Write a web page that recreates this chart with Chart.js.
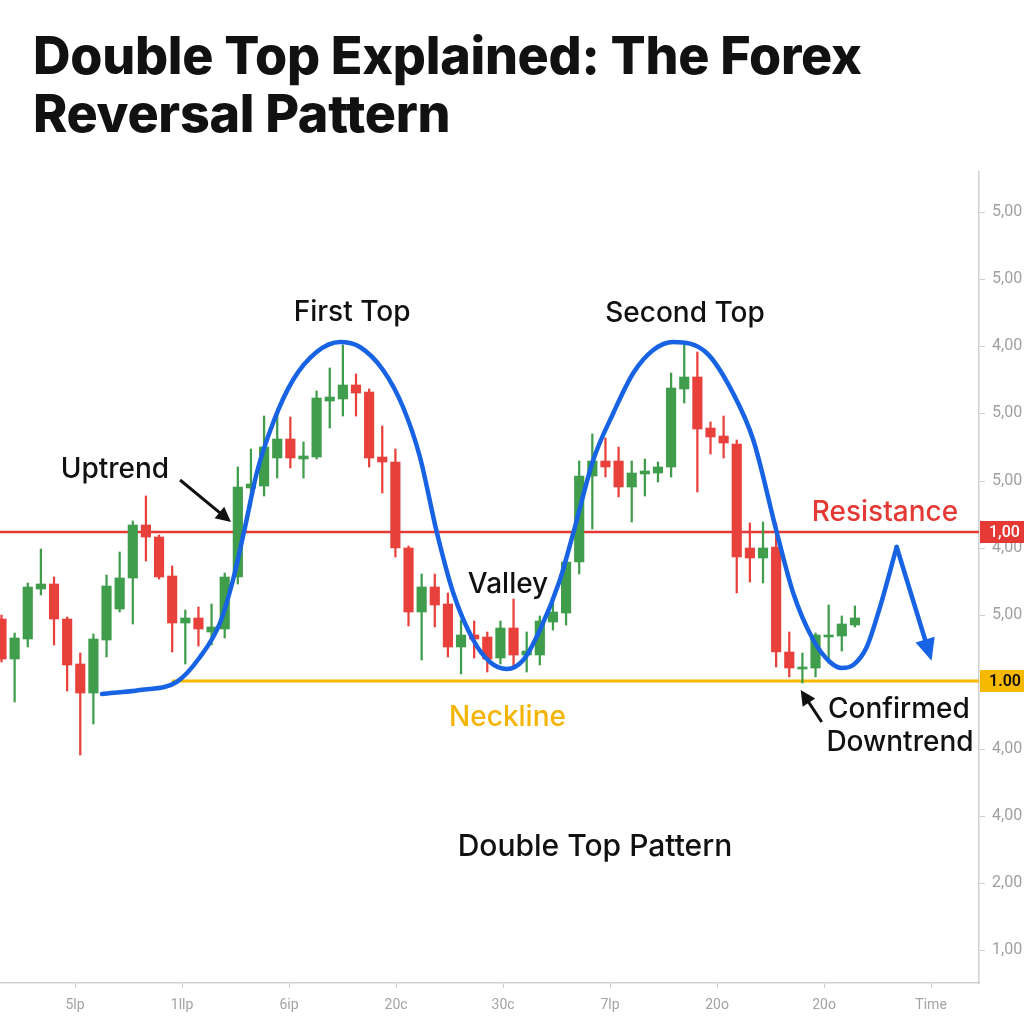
<!DOCTYPE html>
<html><head><meta charset="utf-8">
<script src="https://cdn.jsdelivr.net/npm/chart.js@4.4.1/dist/chart.umd.min.js"></script>
<style>
html,body{margin:0;padding:0;background:#fff;}
#wrap{position:relative;width:1024px;height:1024px;overflow:hidden;background:#fff;}
#title{position:absolute;left:33px;top:27px;margin:0;font-family:Inter,"Open Sans",sans-serif;font-weight:800;font-size:52px;line-height:58px;color:#111;z-index:2;white-space:nowrap;letter-spacing:-0.3px;}
canvas{position:absolute;left:0;top:0;}
</style></head><body>
<div id="wrap">
<h1 id="title">Double Top Explained: The Forex<br>Reversal Pattern</h1>
<canvas id="c" width="1024" height="1024"></canvas>
</div>
<script>
// ---- candle data (one candle per time step) ----
const openP  = [364,324,344,394,399,364,319,290,343,374,405,458,446,407,360,365,351,354,406,495,497,525,544,524,526,582,584,598,591,526,521,435,371,396,379,336,348,346,325,355,328,328,361,370,421,507,522,522,496,509,510,516,594,606,555,547,539,435,425,436,331,314,315,346,347,358];
const highP  = [368,350,400,434,406,366,330,349,408,431,462,487,448,417,373,376,379,410,516,534,567,574,566,541,592,615,638,609,594,557,534,437,409,409,390,363,362,351,362,384,351,367,381,423,522,549,545,536,522,524,521,610,638,631,561,567,543,460,461,460,351,330,350,378,367,377];
const lowP   = [321,281,336,388,338,292,228,259,326,371,359,422,404,331,319,337,338,345,399,477,487,505,515,505,524,555,567,567,516,490,426,357,323,356,326,309,325,311,319,315,311,318,353,358,409,454,506,486,461,487,501,506,580,491,529,525,390,401,400,316,306,300,306,320,332,356];
const closeP = [324,345,396,399,364,318,290,344,397,405,458,446,406,360,365,354,356,406,496,499,536,544,525,527,585,586,598,590,525,521,435,371,396,378,336,348,344,324,355,328,332,362,371,421,507,522,516,496,510,512,516,595,606,554,546,540,426,425,435,331,315,316,348,348,359,365];

// ---- pattern overlay path (time, price) ----
const curveT = [7.65,10.55,13.34,15.12,16.64,17.63,18.55,19.44,20.68,22.2,24.0,25.78,27.3,29.06,30.58,31.87,33.15,34.41,35.93,37.2,38.48,39.74,41.01,42.53,43.55,45.07,46.6,48.12,49.64,51.17,53.71,55.71,57.26,59.04,60.3,61.83,63.1,64.0,64.87,65.9,66.91,68.18];
const curveP = [289,293,301,326,360,403,456,510,560,603,631,641,636,613,576,526,451,390,343,321,314,323,353,403,450,523,570,610,633,641,630,590,543,451,390,343,321,315,318,336,376,436];
const legT = [68.18,70.68];
const legP = [436,329];

// ---- levels ----
const resistanceLevel = 451;
const necklineLevel = 302;
const necklineStart = 12.98;
const resistanceBadge = "1,00";
const necklineBadge = "1.00";

// ---- axes ----
const xTickPos = [5.6,13.75,21.9,30.05,38.2,46.35,54.5,62.65,70.8];
const xTickLabels = ["5lp","1llp","6ip","20c","30c","7lp","20o","20o","Time"];
const yTickPos = [33,100,167,234,301,368,435,502,570,637,704,771];
const yTickLabels = ["1,00","2,00","4,00","4,00","","5,00","4,00","5,00","5,00","4,00","5,00","5,00"];
const X_MIN = -0.114, X_MAX = 74.45, Y_MIN = 0, Y_MAX = 811;

// ---- annotations (time, price) ----
const notes = [
  {text:"First Top", t:26.7, p:662, color:"#111", size:28, weight:500},
  {text:"Second Top", t:52.06, p:661, color:"#111", size:28, weight:500},
  {text:"Uptrend", t:8.64, p:505, color:"#111", size:28, weight:500},
  {text:"Valley", t:38.58, p:390, color:"#111", size:28, weight:500},
  {text:"Resistance", t:67.29, p:462, color:"#e53935", size:28, weight:500},
  {text:"Neckline", t:38.54, p:257, color:"#f4b400", size:28, weight:500},
  {text:"Confirmed", t:68.35, p:265, color:"#111", size:28, weight:500},
  {text:"Downtrend", t:68.43, p:232, color:"#111", size:28, weight:500},
  {text:"Double Top Pattern", t:45.2, p:127, color:"#111", size:30, weight:500}
];
const pointers = [
  {t0:13.6, p0:503, t1:17.48, p1:461},
  {t0:62.47, p0:261, t1:60.87, p1:293}
];

const GREEN = "#3f9d4c", RED = "#e8413b", BLUE = "#1763e3";
const idx = openP.map((_, i) => i);
const colorOf = i => closeP[i] >= openP[i] ? GREEN : RED;

function arrowHead(ctx, x0, y0, x1, y1, len, half, color){
  const dx = x1 - x0, dy = y1 - y0, L = Math.hypot(dx, dy);
  const ux = dx / L, uy = dy / L, nx = -uy, ny = ux;
  const bx = x1 - ux * len, by = y1 - uy * len;
  ctx.beginPath();
  ctx.moveTo(x1, y1);
  ctx.lineTo(bx + nx * half, by + ny * half);
  ctx.lineTo(bx - nx * half, by - ny * half);
  ctx.closePath();
  ctx.fillStyle = color; ctx.fill();
}

const overlay = {
  id: 'overlay',
  afterDatasetsDraw(chart){
    const {ctx, scales:{x, y}} = chart;
    ctx.save();
    const meta = chart.getDatasetMeta(chart.data.datasets.findIndex(d => d.label === 'leg'));
    const n = meta.data.length;
    const a = meta.data[n-2], b = meta.data[n-1];
    const L = Math.hypot(b.x - a.x, b.y - a.y);
    const tx = b.x + (b.x - a.x) / L * 7, ty = b.y + (b.y - a.y) / L * 7;
    arrowHead(ctx, a.x, a.y, tx, ty, 22, 10, BLUE);
    pointers.forEach(pt => {
      const x0 = x.getPixelForValue(pt.t0), y0 = y.getPixelForValue(pt.p0);
      const x1 = x.getPixelForValue(pt.t1), y1 = y.getPixelForValue(pt.p1);
      const L2 = Math.hypot(x1 - x0, y1 - y0);
      const ex = x1 - (x1 - x0) / L2 * 10, ey = y1 - (y1 - y0) / L2 * 10;
      ctx.beginPath(); ctx.moveTo(x0, y0); ctx.lineTo(ex, ey);
      ctx.strokeStyle = "#111"; ctx.lineWidth = 3; ctx.stroke();
      arrowHead(ctx, x0, y0, x1, y1, 15, 7.5, "#111");
    });
    ctx.textAlign = 'center'; ctx.textBaseline = 'alphabetic';
    notes.forEach(nt => {
      ctx.font = nt.weight + " " + nt.size + "px Inter, 'Open Sans', sans-serif";
      ctx.fillStyle = nt.color;
      ctx.fillText(nt.text, x.getPixelForValue(nt.t), y.getPixelForValue(nt.p));
    });
    ctx.restore();
  },
  afterDraw(chart){
    const {ctx, chartArea, scales:{y}} = chart;
    ctx.save();
    const left = chartArea.right + 1, w = chart.width - left;
    const badge = (val, txt, bg, fg, weight) => {
      const py = y.getPixelForValue(val);
      ctx.fillStyle = bg;
      ctx.fillRect(left, py - 11, w, 22);
      ctx.fillStyle = fg;
      ctx.font = weight + " 16px Roboto, sans-serif";
      ctx.textAlign = 'left'; ctx.textBaseline = 'middle';
      ctx.fillText(txt, left + 9, py + 1);
    };
    badge(resistanceLevel, resistanceBadge, "#e53935", "#ffffff", 500);
    badge(necklineLevel, necklineBadge, "#f6b900", "#111111", 600);
    ctx.restore();
  }
};

new Chart(document.getElementById('c'), {
  type: 'bar',
  data: {
    datasets: [
      {type:'line', label:'resistance', data:[{x:X_MIN,y:resistanceLevel},{x:X_MAX,y:resistanceLevel}], borderColor:"#e53935", borderWidth:2.5, pointRadius:0, order:5},
      {type:'line', label:'neckline', data:[{x:necklineStart,y:necklineLevel},{x:X_MAX,y:necklineLevel}], borderColor:"#f6b900", borderWidth:3, pointRadius:0, order:5},
      {label:'wicks', data: idx.map(i => ({x:i, y:[lowP[i], highP[i]]})), backgroundColor: idx.map(colorOf), barThickness:1.6, grouped:false, borderWidth:0, order:3},
      {label:'bodies', data: idx.map(i => ({x:i, y:[openP[i], closeP[i]]})), backgroundColor: idx.map(colorOf), barThickness:9.5, grouped:false, borderWidth:0, order:2},
      {type:'line', label:'curve', data: curveT.map((t, i) => ({x:t, y:curveP[i]})), borderColor:BLUE, borderWidth:4.5, pointRadius:0, cubicInterpolationMode:'monotone', borderCapStyle:'round', order:0},
      {type:'line', label:'leg', data: legT.map((t, i) => ({x:t, y:legP[i]})), borderColor:BLUE, borderWidth:4.5, pointRadius:0, tension:0, borderCapStyle:'round', order:0}
    ]
  },
  options: {
    responsive:false, animation:false,
    layout:{padding:{top:172, left:0, right:0, bottom:0}},
    plugins:{legend:{display:false}, tooltip:{enabled:false}, title:{display:false}},
    scales:{
      x:{type:'linear', min:X_MIN, max:X_MAX, offset:false, position:'bottom',
        afterBuildTicks: s => { s.ticks = xTickPos.map(v => ({value:v})); },
        afterFit: s => { s.height = 41; },
        ticks:{callback:(v, i) => xTickLabels[i], color:"#a3a3a3", font:{family:"Roboto", size:14}, padding:9, maxRotation:0, autoSkip:false},
        grid:{display:true, drawOnChartArea:false, drawTicks:true, tickLength:5, color:"#d0d0d0", offset:false},
        border:{display:true, color:"#cfcfcf", width:1.5}
      },
      y:{type:'linear', position:'right', min:Y_MIN, max:Y_MAX,
        afterBuildTicks: s => { s.ticks = yTickPos.map(v => ({value:v})); },
        afterFit: s => { s.width = 45; },
        ticks:{callback:(v, i) => yTickLabels[i], color:"#a0a0a0", font:{family:"Roboto", size:16}, padding:7, autoSkip:false},
        grid:{display:true, drawOnChartArea:false, drawTicks:true, tickLength:6, color:"#cfcfcf"},
        border:{display:true, color:"#cfcfcf", width:1.5}
      }
    }
  },
  plugins:[overlay]
});
</script>
</body></html>
